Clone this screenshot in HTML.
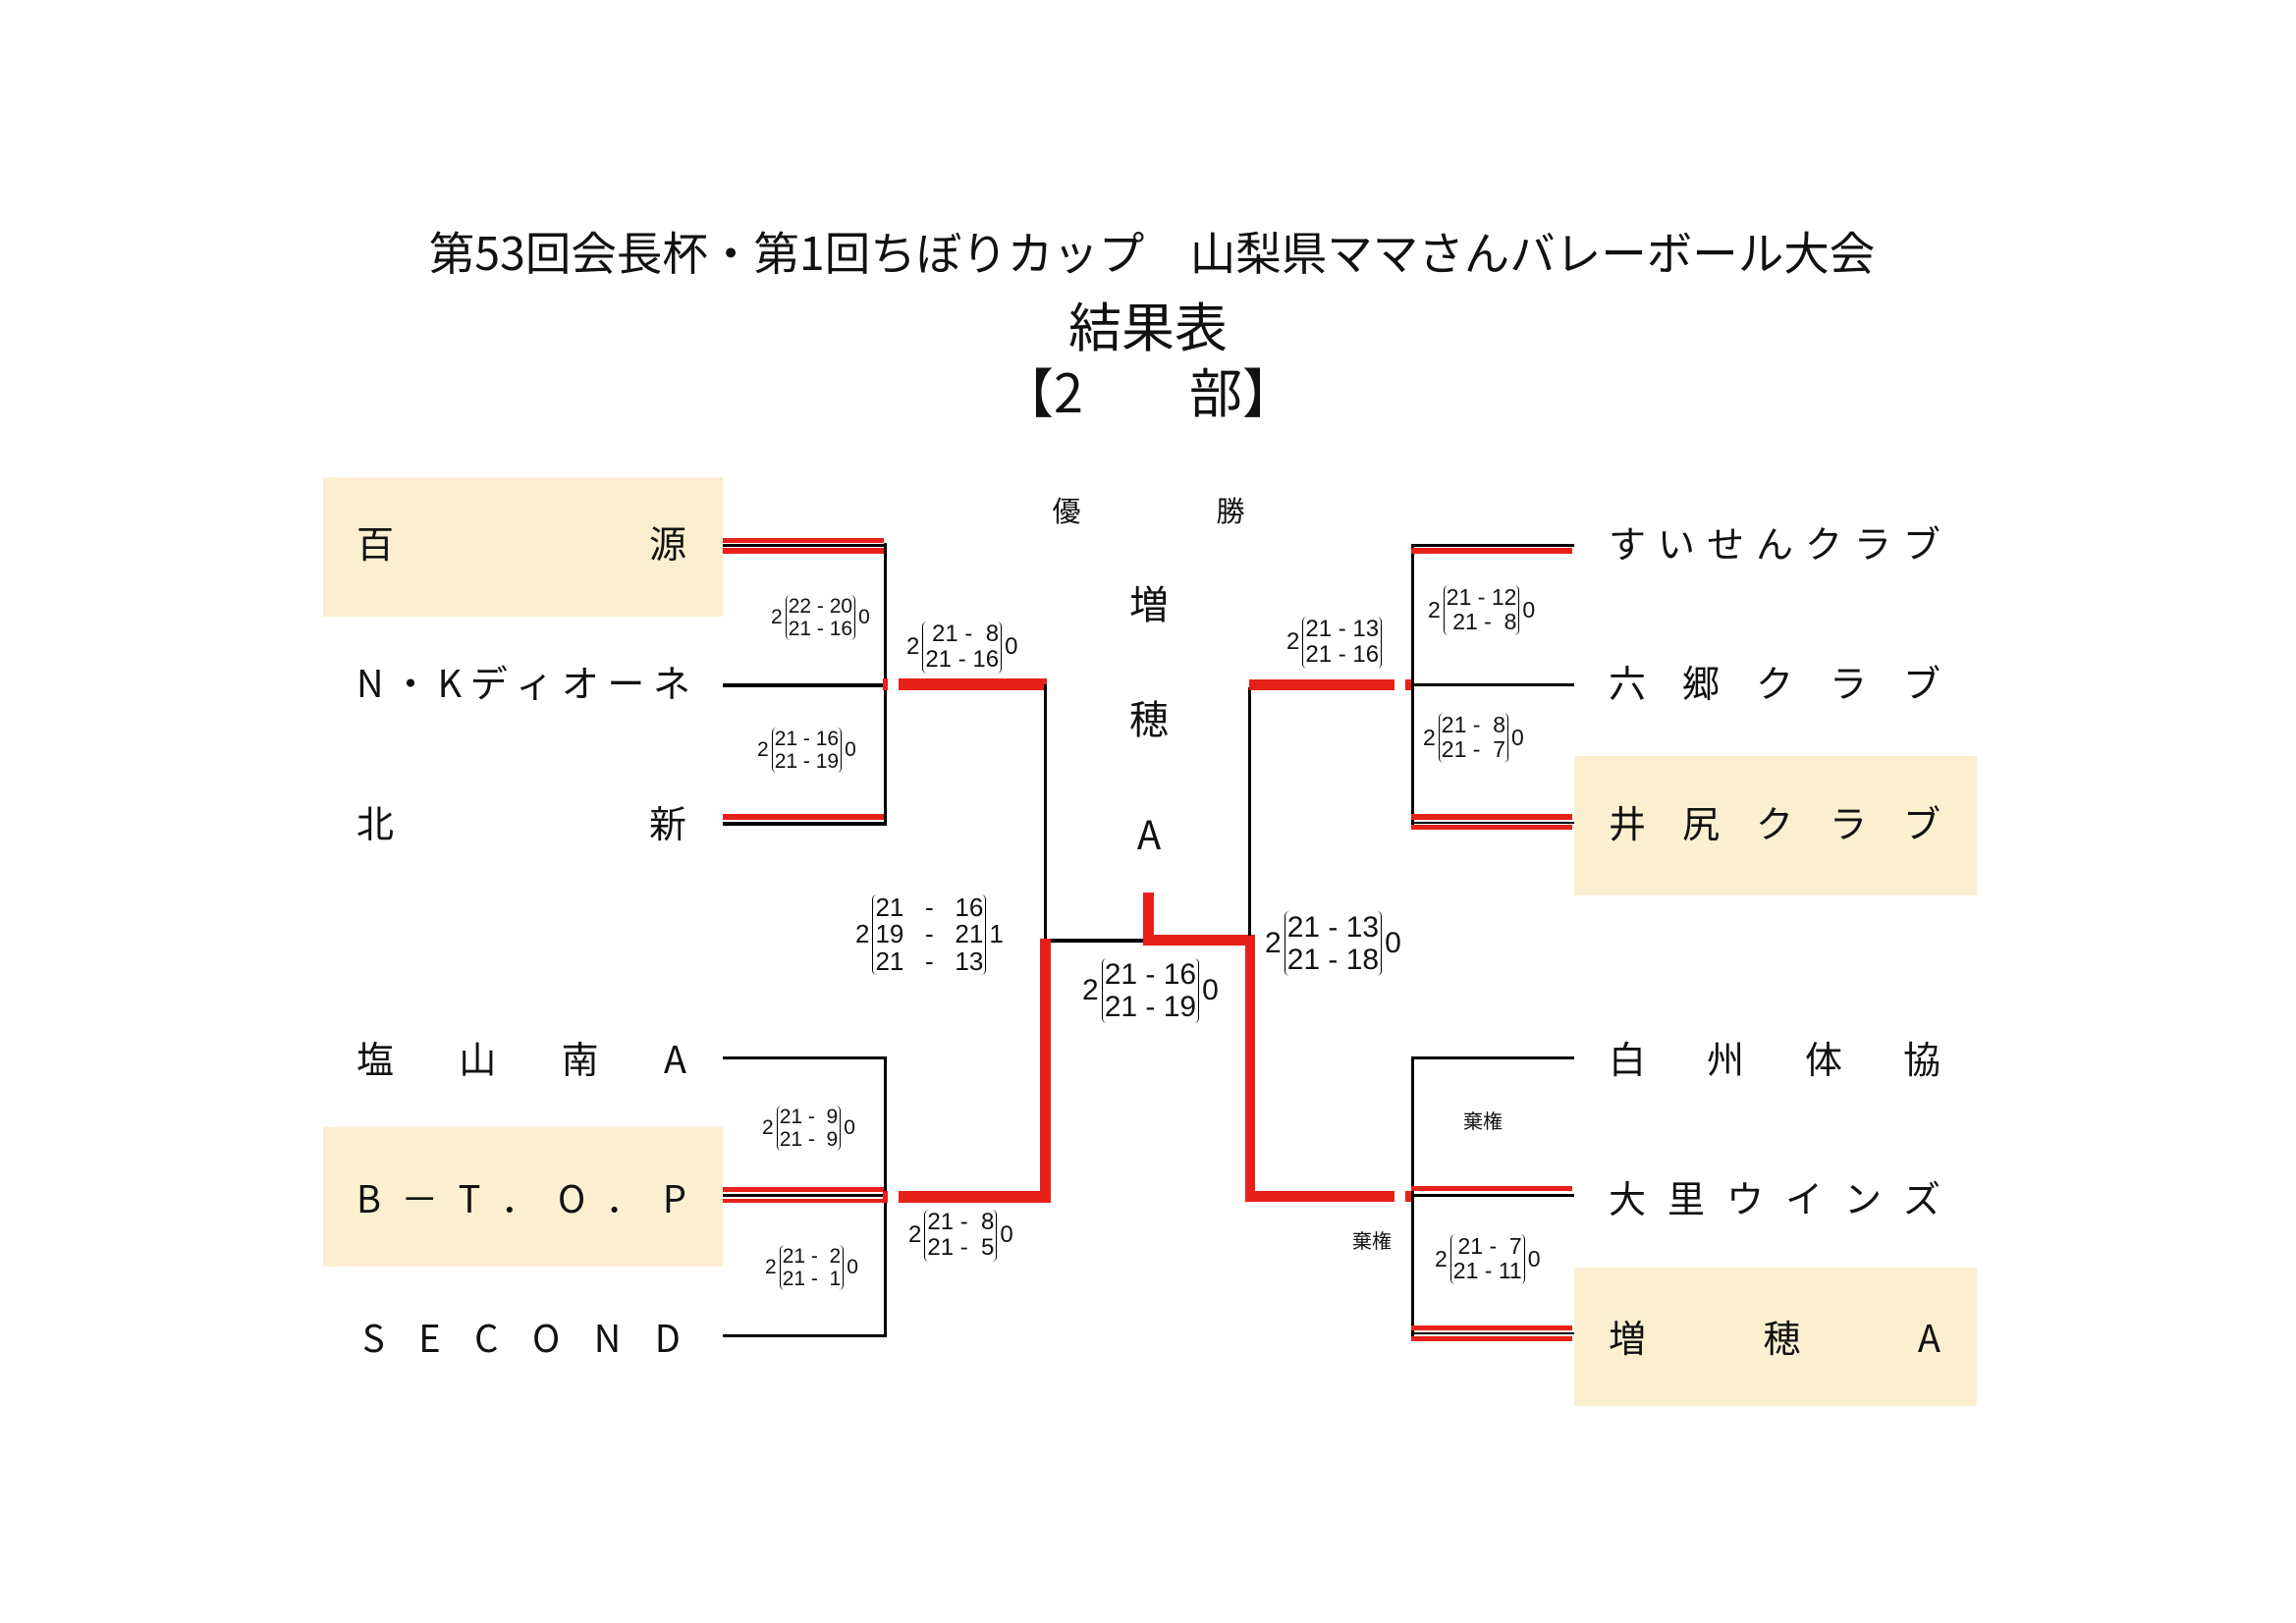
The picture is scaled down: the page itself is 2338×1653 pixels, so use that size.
<!DOCTYPE html>
<html><head><meta charset="utf-8"><style>
*{margin:0;padding:0;box-sizing:border-box}
body{width:2338px;height:1653px;background:#fff;position:relative;overflow:hidden;font-family:"Liberation Sans","Noto Sans CJK JP",sans-serif;color:#111}
.l{position:absolute}
.k{background:#000}
.r{background:#e8201a}
.bx{position:absolute;background:#fcefcf}
.t{position:absolute;white-space:nowrap;text-align:center}
.nm{position:absolute;display:flex;justify-content:space-between;align-items:center;font-family:"Noto Sans CJK JP",sans-serif;font-size:38px;height:50px;line-height:50px}
.sc{position:absolute;display:flex;align-items:center;white-space:nowrap;font-family:"Liberation Sans","Noto Sans CJK JP",sans-serif}
.br{display:inline-block;border-left:1.5px solid #000;border-right:1.5px solid #000;border-radius:5px;padding:0 2px;line-height:1.1;margin:0 3px;text-align:right}
.br div{white-space:pre}
</style></head><body>

<div class="t" style="left:0;width:2346px;top:226px;font-size:46.5px;font-family:'Noto Sans CJK JP',sans-serif;line-height:60px;letter-spacing:0px">第53回会長杯・第1回ちぼりカップ　山梨県ママさんバレーボール大会</div>
<div class="t" style="left:0;width:2338px;top:295px;font-size:54px;font-family:'Noto Sans CJK JP',sans-serif;line-height:70px">結果表</div>
<div class="t" style="left:0;width:2338px;top:362px;font-size:54px;font-family:'Noto Sans CJK JP',sans-serif;line-height:70px">【2　　部】</div>

<div class="bx" style="left:329px;top:486px;width:407px;height:142px"></div>
<div class="bx" style="left:329px;top:1148px;width:407px;height:142px"></div>
<div class="bx" style="left:1603px;top:770px;width:410px;height:142px"></div>
<div class="bx" style="left:1603px;top:1291px;width:410px;height:141px"></div>

<div class="nm" style="left:363px;top:527px;width:336px"><span>百</span><span>源</span></div>
<div class="nm" style="left:363px;top:669px;width:340px"><span>N</span><span>・</span><span>K</span><span>デ</span><span>ィ</span><span>オ</span><span>ー</span><span>ネ</span></div>
<div class="nm" style="left:363px;top:812px;width:336px"><span>北</span><span>新</span></div>
<div class="nm" style="left:363px;top:1052px;width:336px"><span>塩</span><span>山</span><span>南</span><span>A</span></div>
<div class="nm" style="left:363px;top:1194px;width:336px"><span>B</span><span>－</span><span>T</span><span>．</span><span>O</span><span>．</span><span>P</span></div>
<div class="nm" style="left:369px;top:1336px;width:324px"><span>S</span><span>E</span><span>C</span><span>O</span><span>N</span><span>D</span></div>

<div class="nm" style="left:1638px;top:527px;width:338px"><span>す</span><span>い</span><span>せ</span><span>ん</span><span>ク</span><span>ラ</span><span>ブ</span></div>
<div class="nm" style="left:1638px;top:669px;width:338px"><span>六</span><span>郷</span><span>ク</span><span>ラ</span><span>ブ</span></div>
<div class="nm" style="left:1638px;top:812px;width:338px"><span>井</span><span>尻</span><span>ク</span><span>ラ</span><span>ブ</span></div>
<div class="nm" style="left:1638px;top:1052px;width:338px"><span>白</span><span>州</span><span>体</span><span>協</span></div>
<div class="nm" style="left:1638px;top:1194px;width:338px"><span>大</span><span>里</span><span>ウ</span><span>イ</span><span>ン</span><span>ズ</span></div>
<div class="nm" style="left:1638px;top:1336px;width:338px"><span>増</span><span>穂</span><span>A</span></div>

<div class="t" style="left:1070px;top:498px;width:32px;font-size:29px;font-family:'Noto Sans CJK JP',sans-serif">優</div>
<div class="t" style="left:1237px;top:498px;width:32px;font-size:29px;font-family:'Noto Sans CJK JP',sans-serif">勝</div>
<div class="t" style="left:1140px;top:584px;width:60px;font-size:40px;font-family:'Noto Sans CJK JP',sans-serif">増</div>
<div class="t" style="left:1140px;top:701px;width:60px;font-size:40px;font-family:'Noto Sans CJK JP',sans-serif">穂</div>
<div class="t" style="left:1140px;top:819px;width:60px;font-size:40px;font-family:'Noto Sans CJK JP',sans-serif">A</div>

<div class="l r" style="left:736px;top:548px;width:164px;height:5px"></div>
<div class="l k" style="left:736px;top:554px;width:167px;height:3px"></div>
<div class="l r" style="left:736px;top:558px;width:164px;height:6px"></div>
<div class="l k" style="left:900px;top:553px;width:3px;height:288px"></div>
<div class="l k" style="left:736px;top:696px;width:167px;height:4px"></div>
<div class="l r" style="left:899px;top:691px;width:5px;height:12px"></div>
<div class="l r" style="left:915px;top:691px;width:151px;height:12px"></div>
<div class="l r" style="left:736px;top:829px;width:164px;height:6px"></div>
<div class="l k" style="left:736px;top:837px;width:167px;height:4px"></div>
<div class="l k" style="left:1063px;top:697px;width:3px;height:263px"></div>
<div class="l k" style="left:1063px;top:956px;width:102px;height:4px"></div>

<div class="l k" style="left:736px;top:1076px;width:167px;height:3px"></div>
<div class="l k" style="left:900px;top:1076px;width:3px;height:286px"></div>
<div class="l r" style="left:736px;top:1209px;width:164px;height:5px"></div>
<div class="l k" style="left:736px;top:1216px;width:167px;height:3px"></div>
<div class="l r" style="left:736px;top:1221px;width:164px;height:4px"></div>
<div class="l r" style="left:899px;top:1213px;width:5px;height:12px"></div>
<div class="l r" style="left:915px;top:1213px;width:155px;height:12px"></div>
<div class="l r" style="left:1059px;top:956px;width:11px;height:269px"></div>
<div class="l k" style="left:736px;top:1359px;width:167px;height:3px"></div>

<div class="l r" style="left:1164px;top:909px;width:11px;height:54px"></div>
<div class="l r" style="left:1164px;top:952px;width:114px;height:11px"></div>
<div class="l r" style="left:1268px;top:952px;width:10px;height:272px"></div>
<div class="l r" style="left:1268px;top:1213px;width:152px;height:11px"></div>
<div class="l r" style="left:1431px;top:1213px;width:8px;height:11px"></div>

<div class="l k" style="left:1271px;top:700px;width:3px;height:253px"></div>
<div class="l r" style="left:1272px;top:692px;width:148px;height:11px"></div>
<div class="l r" style="left:1431px;top:692px;width:8px;height:11px"></div>
<div class="l k" style="left:1437px;top:554px;width:3px;height:291px"></div>
<div class="l k" style="left:1437px;top:554px;width:166px;height:3px"></div>
<div class="l r" style="left:1437px;top:558px;width:164px;height:6px"></div>
<div class="l k" style="left:1437px;top:696px;width:166px;height:3px"></div>
<div class="l r" style="left:1437px;top:829px;width:164px;height:6px"></div>
<div class="l k" style="left:1437px;top:837px;width:166px;height:2px"></div>
<div class="l r" style="left:1437px;top:840px;width:164px;height:5px"></div>

<div class="l k" style="left:1437px;top:1076px;width:3px;height:290px"></div>
<div class="l k" style="left:1437px;top:1076px;width:166px;height:3px"></div>
<div class="l r" style="left:1437px;top:1208px;width:164px;height:5px"></div>
<div class="l k" style="left:1437px;top:1216px;width:166px;height:3px"></div>
<div class="l r" style="left:1437px;top:1350px;width:164px;height:5px"></div>
<div class="l k" style="left:1437px;top:1357px;width:166px;height:2px"></div>
<div class="l r" style="left:1437px;top:1361px;width:164px;height:5px"></div>

<div class="sc" style="left:785px;top:606px;font-size:21px"><span>2</span><span class="br"><div>22 - 20</div><div>21 - 16</div></span><span>0</span></div>
<div class="sc" style="left:771px;top:741px;font-size:21px"><span>2</span><span class="br"><div>21 - 16</div><div>21 - 19</div></span><span>0</span></div>
<div class="sc" style="left:923px;top:633px;font-size:24px"><span>2</span><span class="br"><div>21 -  8</div><div>21 - 16</div></span><span>0</span></div>
<div class="sc" style="left:871px;top:911px;font-size:26px"><span>2</span><span class="br" style="line-height:1.05"><div>21   -   16</div><div>19   -   21</div><div>21   -   13</div></span><span>1</span></div>
<div class="sc" style="left:776px;top:1126px;font-size:21px"><span>2</span><span class="br"><div>21 -  9</div><div>21 -  9</div></span><span>0</span></div>
<div class="sc" style="left:779px;top:1268px;font-size:21px"><span>2</span><span class="br"><div>21 -  2</div><div>21 -  1</div></span><span>0</span></div>
<div class="sc" style="left:925px;top:1232px;font-size:24px"><span>2</span><span class="br"><div>21 -  8</div><div>21 -  5</div></span><span>0</span></div>
<div class="sc" style="left:1102px;top:976px;font-size:30px"><span>2</span><span class="br"><div>21 - 16</div><div>21 - 19</div></span><span>0</span></div>
<div class="sc" style="left:1288px;top:928px;font-size:30px"><span>2</span><span class="br"><div>21 - 13</div><div>21 - 18</div></span><span>0</span></div>
<div class="sc" style="left:1310px;top:628px;font-size:24px"><span>2</span><span class="br"><div>21 - 13</div><div>21 - 16</div></span></div>
<div class="sc" style="left:1454px;top:596px;font-size:23px"><span>2</span><span class="br"><div>21 - 12</div><div>21 -  8</div></span><span>0</span></div>
<div class="sc" style="left:1449px;top:726px;font-size:23px"><span>2</span><span class="br"><div>21 -  8</div><div>21 -  7</div></span><span>0</span></div>
<div class="sc" style="left:1461px;top:1257px;font-size:23px"><span>2</span><span class="br"><div>21 -  7</div><div>21 - 11</div></span><span>0</span></div>
<div class="t" style="left:1490px;top:1126px;font-size:20px;font-family:'Noto Sans CJK JP',sans-serif">棄権</div>
<div class="t" style="left:1377px;top:1248px;font-size:20px;font-family:'Noto Sans CJK JP',sans-serif">棄権</div>
</body></html>
